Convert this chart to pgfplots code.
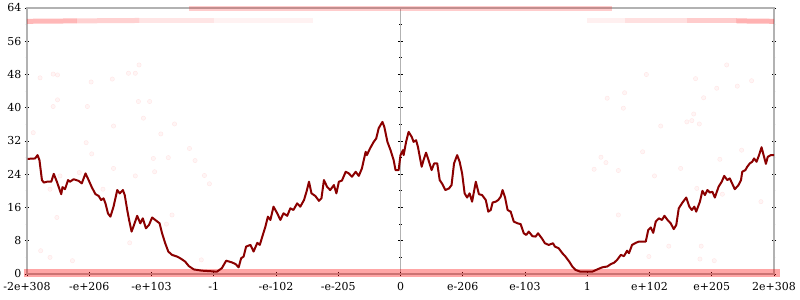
\documentclass[border=0pt]{standalone}
\usepackage{fontspec}
\setmainfont{DejaVu Serif}
\usepackage{pgfplots}
\usepackage{pgfplotstable}
\pgfplotsset{compat=1.18}
\definecolor{darkred}{RGB}{139,0,0}
\definecolor{axgray}{RGB}{178,178,178}

\pgfplotstableread{
x y
-5.99 27.7
-5.87 27.8
-5.83 28.6
-5.80 27.4
-5.76 22.6
-5.73 22.0
-5.68 22.2
-5.61 22.2
-5.57 24.1
-5.52 22.2
-5.45 19.2
-5.43 20.9
-5.39 20.4
-5.34 22.6
-5.31 22.2
-5.25 22.8
-5.17 22.4
-5.12 21.8
-5.06 24.2
-5.01 22.6
-4.96 20.9
-4.90 19.2
-4.85 18.8
-4.81 17.8
-4.77 18.2
-4.74 17.0
-4.70 14.6
-4.66 13.8
-4.61 16.2
-4.55 20.2
-4.51 19.4
-4.46 20.2
-4.43 19.0
-4.39 15.4
-4.36 13.0
-4.32 10.2
-4.29 11.4
-4.23 14.0
-4.18 12.2
-4.14 13.4
-4.09 11.0
-4.04 11.8
-3.99 13.6
-3.94 13.0
-3.87 12.2
-3.83 9.8
-3.78 7.4
-3.73 5.4
-3.67 4.6
-3.59 4.2
-3.54 3.8
-3.46 3.0
-3.40 1.9
-3.32 1.1
-3.19 0.8
-3.03 0.65
-2.95 0.55
-2.87 1.4
-2.80 3.2
-2.71 2.8
-2.65 2.4
-2.60 1.6
-2.56 3.8
-2.52 4.2
-2.48 6.6
-2.41 7.0
-2.36 5.4
-2.30 7.5
-2.26 7.0
-2.22 9.0
-2.17 11.4
-2.13 13.8
-2.09 13.0
-2.04 16.2
-1.98 14.6
-1.93 13.0
-1.88 14.6
-1.82 14.0
-1.77 15.8
-1.72 15.4
-1.66 17.0
-1.61 16.2
-1.55 17.8
-1.51 19.8
-1.47 22.2
-1.43 19.4
-1.37 18.8
-1.31 17.6
-1.27 18.2
-1.23 22.6
-1.18 21.0
-1.13 20.2
-1.07 21.4
-1.03 19.4
-0.99 22.2
-0.94 22.5
-0.88 24.6
-0.83 24.2
-0.78 23.4
-0.72 24.6
-0.67 23.6
-0.62 25.4
-0.56 29.4
-0.54 28.6
-0.49 30.2
-0.43 31.8
-0.39 32.6
-0.35 35.1
-0.29 36.6
-0.26 35.4
-0.21 31.8
-0.16 29.8
-0.11 27.4
-0.08 25.0
-0.03 25.0
0.00 28.6
0.04 29.8
0.05 28.6
0.09 31.8
0.13 34.2
0.18 33.0
0.21 31.8
0.25 32.2
0.28 30.6
0.34 25.8
0.37 27.4
0.41 29.2
0.45 27.4
0.50 25.0
0.54 26.6
0.59 26.6
0.63 22.6
0.67 21.7
0.72 20.2
0.78 20.6
0.82 21.4
0.86 26.6
0.91 28.6
0.95 27.0
0.99 24.2
1.03 19.4
1.07 18.4
1.11 19.4
1.15 17.4
1.21 22.2
1.26 19.2
1.31 19.0
1.37 17.8
1.41 15.0
1.45 15.4
1.48 17.2
1.53 17.4
1.57 17.8
1.61 18.6
1.64 20.2
1.68 18.4
1.72 15.4
1.77 15.0
1.82 12.6
1.88 12.2
1.93 12.0
1.98 9.8
2.02 9.4
2.06 10.2
2.12 9.1
2.17 9.0
2.21 9.8
2.27 8.6
2.32 7.4
2.38 7.0
2.45 7.4
2.48 6.6
2.54 6.2
2.60 5.0
2.65 4.2
2.71 3.0
2.76 1.8
2.81 1.0
2.89 0.55
3.00 0.55
3.08 0.55
3.16 1.1
3.24 1.6
3.32 1.8
3.38 2.4
3.43 2.7
3.48 3.4
3.54 4.6
3.59 4.3
3.64 5.6
3.67 5.0
3.72 7.0
3.78 7.5
3.83 7.8
3.94 7.8
3.98 10.6
4.02 11.2
4.06 9.9
4.10 12.6
4.15 13.4
4.20 13.0
4.24 14.0
4.29 13.0
4.34 12.2
4.39 10.8
4.43 11.8
4.47 15.8
4.53 17.2
4.59 18.4
4.64 16.2
4.68 15.4
4.72 16.2
4.75 15.0
4.81 17.4
4.85 20.0
4.89 19.0
4.93 20.2
4.97 19.6
5.01 19.8
5.05 18.4
5.11 21.0
5.16 22.2
5.20 23.6
5.25 22.6
5.29 23.0
5.33 21.7
5.37 20.4
5.43 21.4
5.47 22.6
5.49 24.6
5.54 25.0
5.57 25.8
5.61 26.6
5.65 27.0
5.68 27.8
5.72 27.0
5.76 28.6
5.80 30.5
5.84 28.2
5.87 26.5
5.90 28.2
5.95 28.6
6.00 28.6
}\mainline

\pgfplotstableread{
x y
-5.79 47.2
-5.58 48.1
-5.51 47.9
-4.97 46.2
-4.63 46.9
-4.37 48.3
-4.26 48.3
-4.20 50.3
-5.51 41.9
-5.58 40.3
-5.03 40.3
-5.90 34.0
-5.05 31.6
-4.96 28.9
-4.61 35.6
-4.61 25.4
-4.21 41.5
-4.03 41.5
-4.13 37.5
-3.63 36.1
-3.85 33.7
-3.97 27.8
-3.73 28.0
-3.95 24.6
-3.39 30.2
-3.30 27.3
-4.26 23.6
-4.78 20.4
-5.63 20.4
-5.47 23.6
-5.16 24.4
-3.15 23.7
-3.07 21.7
-5.52 13.6
-5.78 5.6
-5.63 4.0
-5.27 3.2
-4.35 7.5
-3.76 12.0
-3.67 14.2
-3.20 3.4
3.58 39.9
4.71 38.5
4.60 36.6
4.80 36.1
4.18 35.6
3.89 29.4
3.30 26.8
3.22 28.1
3.50 24.9
4.08 23.6
4.50 25.4
5.13 27.6
5.48 29.8
4.76 20.6
5.17 19.2
4.68 36.9
3.11 25.2
5.79 17.4
3.50 14.2
4.31 6.7
4.83 6.7
3.99 4.2
4.81 3.6
5.04 3.2
3.95 48.0
5.24 50.3
4.74 47.0
5.08 44.7
5.41 45.2
5.64 46.5
3.60 43.6
3.32 42.3
4.87 42.4
}\faintdots

\begin{document}
\begin{tikzpicture}
\useasboundingbox (0,0) rectangle (800bp,300bp);
% middle axis at x = 0
\begin{axis}[
  at={(27bp,26bp)}, anchor=south west,
  scale only axis, width=747bp, height=266bp,
  xmin=-6, xmax=6, ymin=0, ymax=64,
  axis x line=none, axis y line=center,
  axis line style={axgray, line width=1.5bp, -},
  ytick={0,8,...,64}, yticklabels={},
  minor y tick num=1,
  tick align=center,
  tick style={black, line width=0.8bp},
]
\addplot[draw=none] coordinates {(0,0)};
\end{axis}
% main axis
\begin{axis}[
  at={(27bp,26bp)}, anchor=south west,
  scale only axis, width=747bp, height=266bp,
  xmin=-6, xmax=6, ymin=0, ymax=64,
  clip=false,
  axis line style={axgray, line width=1.5bp},
  xtick={-6,-5,...,6},
  xticklabels={-2e+308,-e+206,-e+103,-1,-e-102,-e-205,0,e-206,e-103,1,e+102,e+205,2e+308},
  xtick pos=lower,
  ytick={0,8,...,64},
  minor y tick num=1,
  tick align=center,
  tick style={black, line width=0.8bp},
  tick label style={font=\fontsize{11}{13}\selectfont},
  /pgf/number format/assume math mode=true,
  xticklabel style={yshift=-3bp},
]
% faint bands of points
\addplot[red, opacity=0.35, line width=8bp, forget plot] coordinates {(-6.05,0.36) (6.1,0.36)};
\addplot[red, opacity=0.28, line width=5bp] coordinates {(-6,60.8) (-5.2,60.9)};
\addplot[red, opacity=0.18, line width=5bp] coordinates {(-5.2,60.9) (-4.2,61.0)};
\addplot[red, opacity=0.10, line width=5bp] coordinates {(-4.2,61.0) (-3.0,61.0)};
\addplot[red, opacity=0.05, line width=5bp] coordinates {(-3.0,61.0) (-1.4,61.0)};
\addplot[red, opacity=0.20, line width=4.5bp] coordinates {(-3.4,63.9) (3.4,63.9)};
\addplot[red, opacity=0.06, line width=5bp] coordinates {(3.0,61.0) (3.6,61.0)};
\addplot[red, opacity=0.12, line width=5bp] coordinates {(3.6,61.0) (4.6,61.0)};
\addplot[red, opacity=0.20, line width=5bp] coordinates {(4.6,60.9) (5.4,60.9)};
\addplot[red, opacity=0.30, line width=5bp] coordinates {(5.4,60.9) (6,60.8)};
% scattered faint points
\addplot[only marks, mark=*, mark size=2.2bp,
  mark options={draw=red, fill=red, draw opacity=0.08, fill opacity=0.04}]
  table[x=x, y=y] {\faintdots};
% main line
\addplot[darkred, line width=2bp, line join=round] table[x=x, y=y] {\mainline};
\end{axis}
\end{tikzpicture}
\end{document}
